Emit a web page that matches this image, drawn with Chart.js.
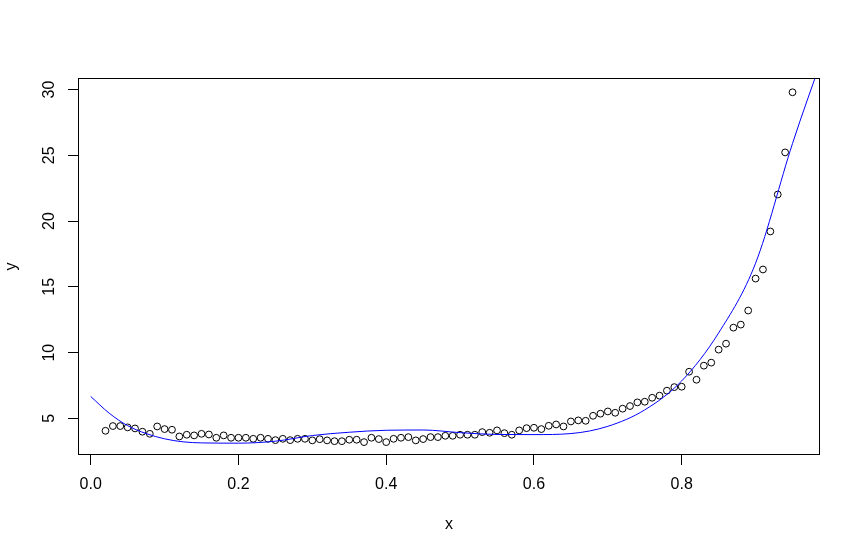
<!DOCTYPE html>
<html>
<head>
<meta charset="utf-8">
<script src="https://cdn.jsdelivr.net/npm/chart.js@4/dist/chart.umd.min.js"></script>
<style>
  html, body { margin: 0; padding: 0; background: #fff; }
  #plot { display: block; }
</style>
</head>
<body>
<canvas id="plot" width="861" height="553"></canvas>
<script>
// observed points (x, y)
var xPoints = [0.02, 0.03, 0.04, 0.05, 0.06, 0.07, 0.08, 0.09, 0.10, 0.11,
    0.12, 0.13, 0.14, 0.15, 0.16, 0.17, 0.18, 0.19, 0.20, 0.21,
    0.22, 0.23, 0.24, 0.25, 0.26, 0.27, 0.28, 0.29, 0.30, 0.31,
    0.32, 0.33, 0.34, 0.35, 0.36, 0.37, 0.38, 0.39, 0.40, 0.41,
    0.42, 0.43, 0.44, 0.45, 0.46, 0.47, 0.48, 0.49, 0.50, 0.51,
    0.52, 0.53, 0.54, 0.55, 0.56, 0.57, 0.58, 0.59, 0.60, 0.61,
    0.62, 0.63, 0.64, 0.65, 0.66, 0.67, 0.68, 0.69, 0.70, 0.71,
    0.72, 0.73, 0.74, 0.75, 0.76, 0.77, 0.78, 0.79, 0.80, 0.81,
    0.82, 0.83, 0.84, 0.85, 0.86, 0.87, 0.88, 0.89, 0.90, 0.91,
    0.92, 0.93, 0.94, 0.95];
var yPoints = [4.06, 4.42, 4.42, 4.32, 4.24, 3.99, 3.83, 4.39, 4.19, 4.14,
    3.63, 3.76, 3.71, 3.83, 3.78, 3.53, 3.71, 3.53, 3.53, 3.53,
    3.45, 3.53, 3.45, 3.35, 3.45, 3.35, 3.45, 3.45, 3.33, 3.42,
    3.33, 3.27, 3.27, 3.38, 3.38, 3.20, 3.53, 3.43, 3.20, 3.45,
    3.53, 3.58, 3.33, 3.43, 3.58, 3.58, 3.68, 3.68, 3.76, 3.76,
    3.76, 3.96, 3.91, 4.09, 3.88, 3.76, 4.09, 4.26, 4.29, 4.19,
    4.44, 4.54, 4.39, 4.77, 4.85, 4.82, 5.20, 5.36, 5.53, 5.43,
    5.74, 5.94, 6.22, 6.27, 6.57, 6.73, 7.11, 7.38, 7.41, 8.55,
    7.94, 9.01, 9.24, 10.23, 10.68, 11.90, 12.13, 13.20, 15.63, 16.32,
    19.21, 22.02, 25.22, 29.79];

// fitted curve
var lineX = [0, 0.025, 0.05, 0.075, 0.1, 0.125, 0.15, 0.2, 0.25, 0.3, 0.35, 0.4,
    0.45, 0.5, 0.55, 0.6, 0.65, 0.7, 0.75, 0.8, 0.85, 0.9, 0.95, 0.99];
var lineY = [6.67, 5.40, 4.45, 3.85, 3.45, 3.22, 3.14, 3.12, 3.27, 3.70, 3.95, 4.10,
    4.12, 3.92, 3.78, 3.77, 3.85, 4.40, 5.65, 7.85, 11.5, 16.8, 25.9, 32.4];

var xTicks = [0, 0.2, 0.4, 0.6, 0.8];
var yTicks = [5, 10, 15, 20, 25, 30];

var xRange = [-0.0172, 0.9872];
var yRange = [2.22, 30.875];

function pairs(xs, ys) {
    return xs.map(function (x, i) { return { x: x, y: ys[i] }; });
}

Chart.defaults.font.family = "'Liberation Sans', Arial, sans-serif";
Chart.defaults.font.size = 16;
Chart.defaults.color = '#000';

// box around the plot region
var boxPlugin = {
    id: 'box',
    afterDraw: function (chart) {
        var a = chart.chartArea;
        var c = chart.ctx;
        c.save();
        c.strokeStyle = '#000';
        c.lineWidth = 1;
        c.strokeRect(Math.round(a.left) + 0.5, Math.round(a.top) + 0.5,
            Math.round(a.right - a.left) - 1, Math.round(a.bottom - a.top) - 1);
        c.restore();
    }
};

new Chart(document.getElementById('plot'), {
    type: 'scatter',
    data: {
        datasets: [
            {
                label: 'fit',
                data: pairs(lineX, lineY),
                showLine: true,
                borderColor: '#0000ff',
                borderWidth: 1,
                pointRadius: 0,
                cubicInterpolationMode: 'monotone',
                order: 0
            },
            {
                label: 'y',
                data: pairs(xPoints, yPoints),
                pointStyle: 'circle',
                pointRadius: 3.4,
                borderColor: '#000',
                borderWidth: 1,
                backgroundColor: 'rgba(0,0,0,0)',
                order: 1
            }
        ]
    },
    options: {
        responsive: false,
        devicePixelRatio: 1,
        animation: false,
        layout: { padding: { left: 0, top: 78, right: 41, bottom: 0 } },
        plugins: {
            legend: { display: false },
            tooltip: { enabled: false }
        },
        scales: {
            x: {
                type: 'linear',
                min: xRange[0],
                max: xRange[1],
                afterBuildTicks: function (s) { s.ticks = xTicks.map(function (v) { return { value: v }; }); },
                afterFit: function (s) { s.height = 98; },
                grid: { drawOnChartArea: false, drawTicks: true, tickLength: 10, color: '#000' },
                border: { display: false },
                ticks: {
                    padding: 10,
                    maxRotation: 0,
                    callback: function (v) { return v.toFixed(1); }
                },
                title: { display: true, text: 'x', padding: { top: 0, bottom: 19 } }
            },
            y: {
                type: 'linear',
                min: yRange[0],
                max: yRange[1],
                afterBuildTicks: function (s) { s.ticks = yTicks.map(function (v) { return { value: v }; }); },
                afterFit: function (s) { s.width = 78; },
                grid: { drawOnChartArea: false, drawTicks: true, tickLength: 10, color: '#000' },
                border: { display: false },
                ticks: {
                    padding: 10,
                    minRotation: 90,
                    maxRotation: 90,
                    crossAlign: 'center',
                    callback: function (v) { return String(v); }
                },
                title: { display: true, text: 'y', padding: { top: 2, bottom: 0 } }
            }
        }
    },
    plugins: [boxPlugin]
});
</script>
</body>
</html>
